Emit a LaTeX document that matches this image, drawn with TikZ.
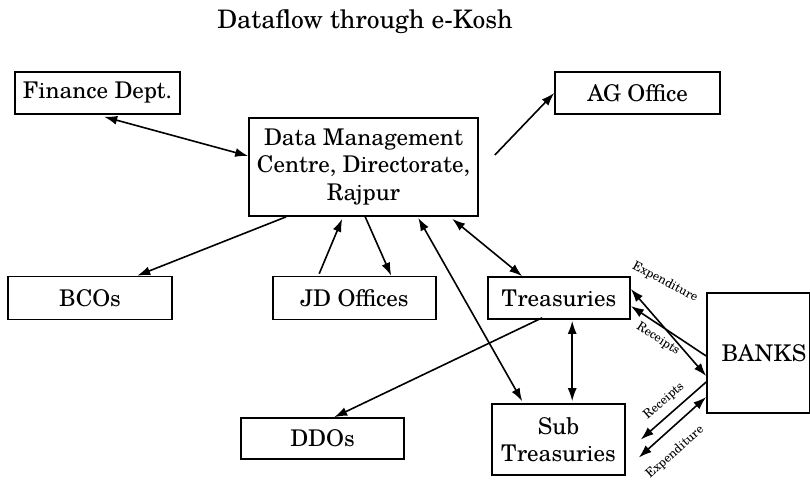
\documentclass[tikz,border=0pt]{standalone}
\usepackage{fontspec}
\setmainfont{TeX Gyre Schola}
\usetikzlibrary{arrows.meta}
\begin{document}
\begin{tikzpicture}[x=1pt,y=-1pt,
  box/.style={draw, line width=1.6pt, inner sep=0pt, align=center, font=\fontsize{23}{27.5}\selectfont},
  con/.style={line width=1.6pt},
  arr/.style={con,-{Latex[length=13pt,width=9pt]}},
  darr/.style={con,{Latex[length=13pt,width=9pt]}-{Latex[length=13pt,width=9pt]}},
  lab/.style={font=\fontsize{12.5}{14}\selectfont, inner sep=0pt}]
\useasboundingbox (0,0) rectangle (810,479);
\node[font=\fontsize{25.5}{30}\selectfont, anchor=base, inner sep=0pt] (title) at (365,28) {Dataflow through e-Kosh};
\node[box, minimum width=165pt, minimum height=42pt] (fin) at (97.5,93) {Finance Dept.};
\node[box, minimum width=165pt, minimum height=42pt] (ag) at (637.5,93) {AG Office};
\node[box, minimum width=229pt, minimum height=98pt] (dmc) at (363.5,167) {Data Management\\Centre, Directorate,\\Rajpur};
\node[box, minimum width=164pt, minimum height=43pt] (bco) at (90,298) {BCOs};
\node[box, minimum width=163pt, minimum height=43pt] (jd) at (354.5,298) {JD Offices};
\node[box, minimum width=142pt, minimum height=42pt] (tre) at (559,298) {Treasuries};
\node[box, minimum width=103pt, minimum height=120pt, text width=90pt] (bank) at (758.5,353) {\hspace*{8pt}BANKS};
\node[box, minimum width=163pt, minimum height=41pt] (ddo) at (322.5,438.5) {DDOs};
\node[box, minimum width=133pt, minimum height=71pt] (sub) at (558.5,439.5) {Sub\\Treasuries};

\draw[darr] ([xshift=90pt,yshift=-2pt]fin.south west) -- ([yshift=11pt]dmc.west);
\draw[arr] ([xshift=16pt,yshift=12pt]dmc.east) -- (ag.west);
\draw[arr] ([xshift=38pt]dmc.south west) -- ([xshift=130pt]bco.north west);
\draw[arr] ([xshift=47pt,yshift=2pt]jd.north west) -- ([xshift=94pt,yshift=-2pt]dmc.south west);
\draw[arr] ([xshift=117pt]dmc.south west) -- ([xshift=119pt]jd.north west);
\draw[darr] ([xshift=170pt,yshift=-1pt]dmc.south west) -- ([xshift=31pt,yshift=2pt]sub.north west);
\draw[darr] ([xshift=204pt,yshift=-2pt]dmc.south west) -- ([xshift=35pt]tre.north west);
\draw[arr] ([xshift=55pt,yshift=2pt]tre.south west) -- ([xshift=94pt]ddo.north west);
\draw[darr] ([xshift=85pt,yshift=-1pt]tre.south west) -- ([xshift=81pt,yshift=2pt]sub.north west);
\draw[darr] ([yshift=9pt]tre.east) -- ([yshift=-23pt]bank.west);
\draw[arr] ([yshift=-3pt]bank.west) -- ([yshift=-8pt]tre.east);
\draw[arr] ([yshift=-29pt]bank.west) -- ([xshift=15pt,yshift=0pt]sub.east);
\draw[darr] ([xshift=13pt,yshift=-18pt]sub.east) -- ([yshift=-44pt]bank.west);

\node[lab, rotate=-28] (l1) at (665,282) {Expenditure};
\node[lab, rotate=-33] (l2) at (658,339) {Receipts};
\node[lab, rotate=41] (l3) at (664,401) {Receipts};
\node[lab, rotate=41.5] (l4) at (675,452) {Expenditure};
\end{tikzpicture}
\end{document}
